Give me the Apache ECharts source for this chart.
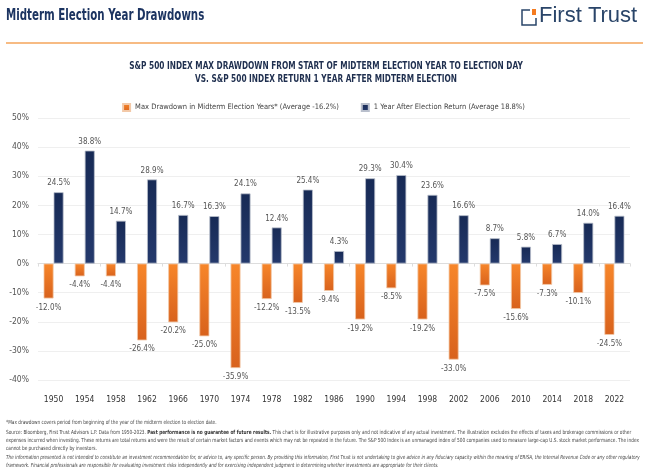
<!DOCTYPE html>
<html>
<head>
<meta charset="utf-8">
<script src="https://cdn.jsdelivr.net/npm/echarts@6/dist/echarts.min.js"></script>
<style>
  html, body { margin: 0; padding: 0; background: #fff; }
  #chart { width: 647px; height: 468px; }
</style>
</head>
<body>
<div id="chart"></div>
<script>
// data
const years = ['1950', '1954', '1958', '1962', '1966', '1970', '1974', '1978', '1982', '1986',
  '1990', '1994', '1998', '2002', '2006', '2010', '2014', '2018', '2022']
const drawdowns = [-12.0, -4.4, -4.4, -26.4, -20.2, -25.0, -35.9, -12.2, -13.5, -9.4,
  -19.2, -8.5, -19.2, -33.0, -7.5, -15.6, -7.3, -10.1, -24.5]
const afterReturns = [24.5, 38.8, 14.7, 28.9, 16.7, 16.3, 24.1, 12.4, 25.4, 4.3,
  29.3, 30.4, 23.6, 16.6, 8.7, 5.8, 6.7, 14.0, 16.4]
const seriesNames = [
  'Max Drawdown in Midterm Election Years* (Average -16.2%)',
  '1 Year After Election Return (Average 18.8%)',
]

const FONT = '"Liberation Sans Narrow", "DejaVu Sans Condensed", sans-serif'
const NAVY = '#1c3461'

const chart = echarts.init(document.getElementById('chart'))

const footStyle = { fontFamily: FONT, fontSize: 5.6, fill: '#444' }

const option = {
  animation: false,
  textStyle: { fontFamily: FONT },
  legend: {
    top: 98,
    left: 'center',
    itemWidth: 7,
    itemHeight: 7,
    itemGap: 22,
    icon: 'rect',
    textStyle: { fontFamily: FONT, fontSize: 7.5, color: '#444' },
    data: seriesNames,
  },
  grid: { left: 38, right: 17, top: 118, bottom: 88 },
  xAxis: [
    {
      type: 'category',
      data: years,
      position: 'bottom',
      axisLine: { show: false, onZero: false },
      axisTick: { show: false },
      axisLabel: { color: '#333', fontSize: 8.5, margin: 15 },
    },
    {
      type: 'category',
      data: years,
      position: 'bottom',
      axisLine: { show: true, onZero: true, lineStyle: { color: '#ddd' } },
      axisTick: { show: true, length: 3, lineStyle: { color: '#ddd' } },
      axisLabel: { show: false },
    },
  ],
  yAxis: {
    type: 'value',
    min: -40,
    max: 50,
    interval: 10,
    axisLine: { show: false },
    axisTick: { show: false },
    axisLabel: { formatter: '{value}%', color: '#555', fontSize: 8.5, margin: 9 },
    splitLine: { lineStyle: { color: '#efefef' } },
  },
  series: [
    {
      name: seriesNames[0],
      type: 'bar',
      data: drawdowns,
      barWidth: 10,
      barGap: '0%',
      itemStyle: {
        color: new echarts.graphic.LinearGradient(0, 0, 0, 1, [
          { offset: 0, color: '#f7862a' },
          { offset: 1, color: '#d8621d' },
        ]),
        borderColor: '#f3c9a8',
        borderWidth: 0.8,
      },
      label: {
        show: true,
        position: 'bottom',
        distance: 5,
        formatter: p => p.value.toFixed(1) + '%',
        color: '#555',
        fontSize: 8,
      },
    },
    {
      name: seriesNames[1],
      type: 'bar',
      data: afterReturns,
      barWidth: 10,
      itemStyle: {
        color: new echarts.graphic.LinearGradient(0, 0, 0, 1, [
          { offset: 0, color: '#172a55' },
          { offset: 1, color: '#24396c' },
        ]),
        borderColor: '#b9bfcc',
        borderWidth: 0.8,
      },
      label: {
        show: true,
        position: 'top',
        distance: 5,
        formatter: p => p.value.toFixed(1) + '%',
        color: '#555',
        fontSize: 8,
      },
    },
  ],
  graphic: [
    // header
    {
      type: 'text', x: 6, y: 9, scaleX: 0.76,
      style: { text: 'Midterm Election Year Drawdowns', fontFamily: FONT, fontSize: 15, fontWeight: 'bold', fill: NAVY },
    },
    {
      type: 'line',
      shape: { x1: 6, y1: 43, x2: 643, y2: 43 },
      style: { stroke: '#f4a45a', lineWidth: 1.5 },
    },
    // chart subtitle
    {
      type: 'text', x: 326, y: 60, scaleX: 0.82,
      style: {
        text: 'S&P 500 INDEX MAX DRAWDOWN FROM START OF MIDTERM ELECTION YEAR TO ELECTION DAY\nVS. S&P 500 INDEX RETURN 1 YEAR AFTER MIDTERM ELECTION',
        align: 'center',
        fontFamily: FONT, fontSize: 10, fontWeight: 'bold', fill: '#1f2f4f', lineHeight: 13,
      },
    },
    // logo
    {
      type: 'polyline',
      shape: { points: [[530, 10], [522, 10], [522, 25], [536, 25], [536, 18]] },
      style: { stroke: '#2a4569', lineWidth: 1.5, fill: null },
    },
    {
      type: 'rect',
      shape: { x: 532, y: 9, width: 4, height: 6 },
      style: { fill: '#f47b20' },
    },
    {
      type: 'text', x: 539, y: 5,
      style: { text: 'First Trust', fontFamily: '"Liberation Sans", sans-serif', fontSize: 22, fill: '#2a4569' },
    },
    // footnotes
    {
      type: 'text', x: 6, y: 420, scaleX: 0.845,
      style: Object.assign({ text: '*Max drawdown covers period from beginning of the year of the midterm election to election date.' }, footStyle),
    },
    {
      type: 'text', x: 6, y: 429, scaleX: 0.845,
      style: Object.assign({}, footStyle, {
        text: 'Source: Bloomberg, First Trust Advisors L.P. Data from 1950-2023. {b|Past performance is no guarantee of future results.} This chart is for illustrative purposes only and not indicative of any actual investment. The illustration excludes the effects of taxes and brokerage commissions or other\n' +
          'expenses incurred when investing. These returns are total returns and were the result of certain market factors and events which may not be repeated in the future. The S&P 500 Index is an unmanaged index of 500 companies used to measure large-cap U.S. stock market performance. The index\n' +
          'cannot be purchased directly by investors.',
        lineHeight: 8,
        rich: { b: { fontFamily: FONT, fontSize: 5.6, fontWeight: 'bold', fill: '#333' } },
      }),
    },
    {
      type: 'text', x: 6, y: 454, scaleX: 0.82,
      style: Object.assign({}, footStyle, {
        text: 'The information presented is not intended to constitute an investment recommendation for, or advice to, any specific person. By providing this information, First Trust is not undertaking to give advice in any fiduciary capacity within the meaning of ERISA, the Internal Revenue Code or any other regulatory\n' +
          'framework. Financial professionals are responsible for evaluating investment risks independently and for exercising independent judgment in determining whether investments are appropriate for their clients.',
        fontStyle: 'italic',
        lineHeight: 8,
      }),
    },
  ],
}

chart.setOption(option)
</script>
</body>
</html>
